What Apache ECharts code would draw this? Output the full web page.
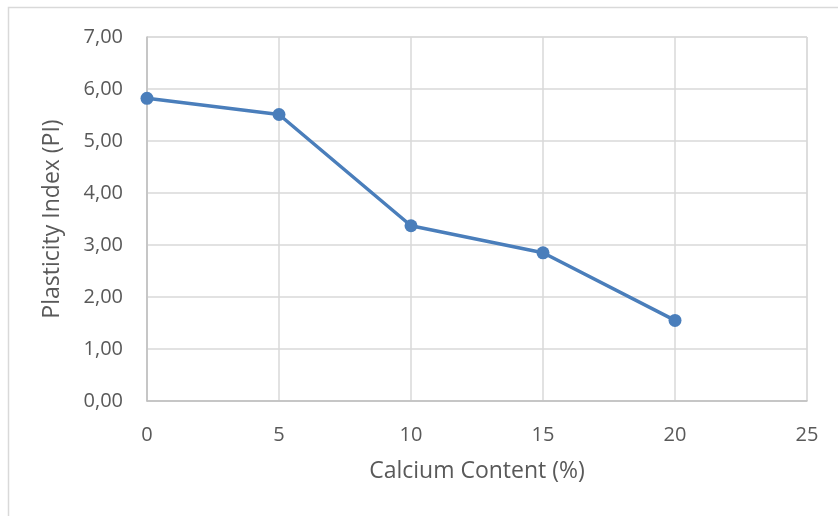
<!DOCTYPE html>
<html><head><meta charset="utf-8">
<script src="https://cdn.jsdelivr.net/npm/echarts@6/dist/echarts.min.js"></script>
<style>html,body{margin:0;padding:0;background:#fff}#c{width:838px;height:516px}</style>
</head><body><div id="c"></div>
<script>
const calcium = [0, 5, 10, 15, 20];
const plasticity = [5.82, 5.51, 3.37, 2.85, 1.55];
const xTitle = 'Calcium Content (%)';
const yTitle = 'Plasticity Index (PI)';

const chart = echarts.init(document.getElementById('c'), null, {renderer: 'canvas'});
const font = '"Open Sans", Lato, sans-serif';
chart.setOption({
  animation: false,
  graphic: [
    {type: 'rect', shape: {x: 8.5, y: 7.5, width: 840, height: 520}, style: {fill: 'none', stroke: '#d9d9d9', lineWidth: 1.5}, silent: true}
  ],
  grid: {left: 147, right: 31, top: 37, bottom: 115, show: true, borderColor: '#d9d9d9', borderWidth: 1},
  xAxis: {
    type: 'value', min: 0, max: 25, interval: 5,
    name: xTitle, nameLocation: 'middle', nameGap: 59,
    nameTextStyle: {fontFamily: font, fontSize: 23, color: '#595959'},
    axisLine: {show: true, lineStyle: {color: '#bfbfbf', width: 1.5}},
    axisTick: {show: false},
    axisLabel: {fontFamily: font, fontSize: 20, color: '#595959', margin: 24},
    splitLine: {show: true, lineStyle: {color: '#d9d9d9', width: 1.5}}
  },
  yAxis: {
    type: 'value', min: 0, max: 7, interval: 1,
    name: yTitle, nameLocation: 'middle', nameGap: 83,
    nameTextStyle: {fontFamily: font, fontSize: 23, color: '#595959'},
    axisLine: {show: true, lineStyle: {color: '#bfbfbf', width: 1.5}},
    axisTick: {show: false},
    axisLabel: {fontFamily: font, fontSize: 20, color: '#595959', margin: 24,
      formatter: v => v.toFixed(2).replace('.', ',')},
    splitLine: {show: true, lineStyle: {color: '#d9d9d9', width: 1.5}}
  },
  series: [{
    type: 'line',
    data: calcium.map((x, i) => [x, plasticity[i]]),
    lineStyle: {color: '#4a7ebb', width: 3.5},
    itemStyle: {color: '#4a7ebb'},
    symbol: 'circle', symbolSize: 13
  }]
});
</script></body></html>
